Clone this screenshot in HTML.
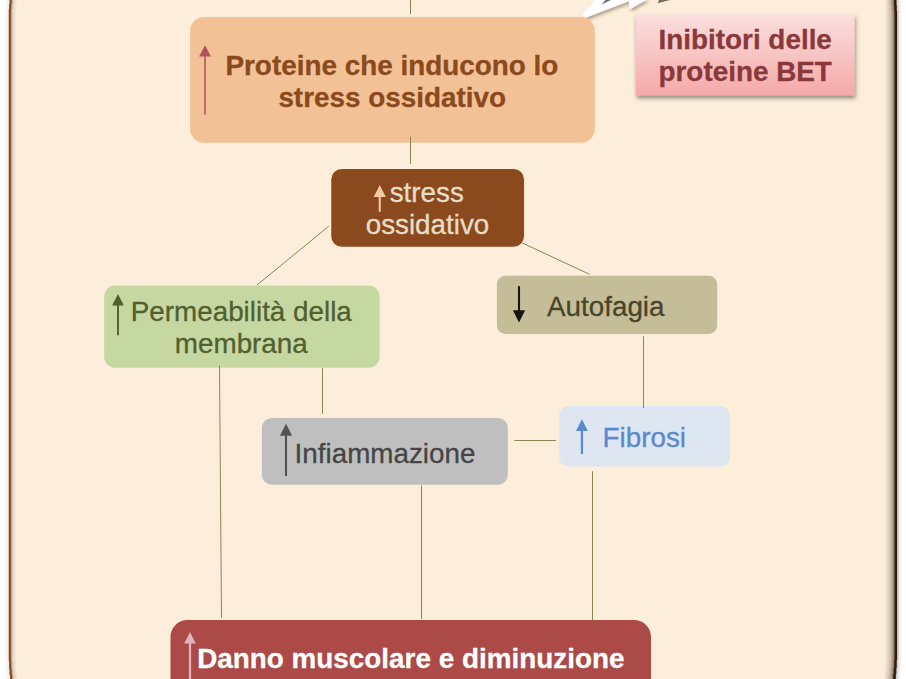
<!DOCTYPE html>
<html lang="it">
<head>
<meta charset="utf-8">
<title>Proteine BET e stress ossidativo</title>
<style>
  html, body { margin: 0; padding: 0; background: #ffffff; }
  body { width: 906px; height: 679px; overflow: hidden; position: relative; }
  #stage { position: absolute; left: 0; top: 0; width: 906px; height: 679px; overflow: hidden; background: #fdeedb; }
  .edgeL { position: absolute; left: 0; width: 18px; --o: 0px;
    background: linear-gradient(to right, #ffffff 0px, #ffffff calc(4.5px + var(--o)), #f6f6f8 calc(6px + var(--o)), #f1eeee calc(8.3px + var(--o)), #a5703f calc(8.9px + var(--o)), #8b4a1c calc(9.4px + var(--o)), #8b4a1c calc(10.4px + var(--o)), #b8905f calc(11.1px + var(--o)), #d3c8b8 calc(12px + var(--o)), #e6dccb calc(13.5px + var(--o)), #fdeedb calc(16.5px + var(--o))); }
  .edgeR { position: absolute; left: 884px; width: 22px; --o: 0px;
    background: linear-gradient(to right, #fdeedb calc(1px - var(--o)), #e2d8c4 calc(4px - var(--o)), #c9bca9 calc(7px - var(--o)), #8a7e72 calc(10px - var(--o)), #4a2b12 calc(10.8px - var(--o)), #3a1a02 calc(11.3px - var(--o)), #3a1a02 calc(12.6px - var(--o)), #c9c9c9 calc(13.6px - var(--o)), #ececec calc(15.5px - var(--o)), #ffffff calc(18.5px - var(--o))); }
  svg { position: absolute; left: 0; top: 0; }
  text { font-family: "Liberation Sans", Arial, Helvetica, sans-serif; font-size: 27.8px; stroke-width: 0.3px; }
  .b { font-weight: bold; font-size: 27.87px; }
</style>
</head>
<body>
<div id="stage">
  <div class="edgeL" style="top:0;height:4px;--o:0.8px"></div>
  <div class="edgeL" style="top:4px;height:5px;--o:0.4px"></div>
  <div class="edgeL" style="top:9px;height:652px"></div>
  <div class="edgeL" style="top:661px;height:8px;--o:0.35px"></div>
  <div class="edgeL" style="top:669px;height:6px;--o:0.8px"></div>
  <div class="edgeL" style="top:675px;height:4px;--o:1.2px"></div>
  <div class="edgeR" style="top:0;height:5px;--o:0.6px"></div>
  <div class="edgeR" style="top:5px;height:6px;--o:0.3px"></div>
  <div class="edgeR" style="top:11px;height:649px"></div>
  <div class="edgeR" style="top:660px;height:8px;--o:0.35px"></div>
  <div class="edgeR" style="top:668px;height:6px;--o:0.8px"></div>
  <div class="edgeR" style="top:674px;height:5px;--o:1.3px"></div>
  <svg width="906" height="679" viewBox="0 0 906 679">
    <defs>
      <linearGradient id="pink" x1="0" y1="0" x2="0" y2="1">
        <stop offset="0" stop-color="#fbdfdf"/>
        <stop offset="1" stop-color="#f4a9a8"/>
      </linearGradient>
      <filter id="sh" x="-10%" y="-20%" width="120%" height="150%">
        <feDropShadow dx="0.8" dy="2.6" stdDeviation="1.9" flood-color="#40382e" flood-opacity="0.6"/>
      </filter>
      <filter id="bl" x="-30%" y="-100%" width="160%" height="300%"><feGaussianBlur stdDeviation="0.7"/></filter>
      <filter id="sh2" x="-20%" y="-50%" width="140%" height="250%">
        <feDropShadow dx="1.5" dy="2.5" stdDeviation="1.6" flood-color="#5a4630" flood-opacity="0.45"/>
      </filter>
    </defs>


    <!-- lightning bolt -->
    <g filter="url(#sh2)">
      <polygon points="583.4,13.6 597.9,-3 629.4,-3 628.4,1.1 586.3,17.1 584.6,16.8 583.3,15.2" fill="#ffffff" stroke="#ffffff" stroke-width="0.7" stroke-linejoin="round"/>
      <polygon points="628.9,-3 629.8,8 630.8,8.5 647.2,-1" fill="#ffffff" stroke="#ffffff" stroke-width="0.5" stroke-linejoin="round"/>
    </g>
    <polygon points="601.5,4.6 606.5,-1 613,-1" fill="#6b6b6b"/>
    <polygon points="657.5,3.2 660,-2 678,-2" fill="#5e5750" opacity="0.85" filter="url(#bl)"/>

    <!-- orange box -->
    <rect x="190.1" y="16.9" width="404.7" height="125.9" rx="14" ry="14" fill="#f2c196"/>
    <g fill="#b0525c" stroke="none">
      <rect x="204.25" y="54" width="1.5" height="60.7"/>
      <polygon points="205,45.2 210.9,56.4 199.1,56.4"/>
    </g>
    <text class="b" x="391.85" y="74.5" text-anchor="middle" fill="#8b4a1c" stroke="#8b4a1c">Proteine che inducono lo</text>
    <text class="b" x="392.2" y="106.5" text-anchor="middle" fill="#8b4a1c" stroke="#8b4a1c">stress ossidativo</text>

    <line x1="410.5" y1="136.5" x2="410.5" y2="164" stroke="#8b8754" stroke-width="1"/>

    <!-- pink box -->
    <rect x="636" y="14.5" width="218.5" height="81" fill="url(#pink)" filter="url(#sh)"/>
    <text class="b" x="745.2" y="48.75" text-anchor="middle" fill="#8b383a" stroke="#8b383a">Inibitori delle</text>
    <text class="b" x="745.2" y="80.5" text-anchor="middle" fill="#8b383a" stroke="#8b383a">proteine BET</text>

    <!-- brown box -->
    <rect x="331.25" y="169" width="192.8" height="77.8" rx="10.5" ry="10.5" fill="#8b4a1e"/>
    <g fill="#f5c8a0">
      <rect x="378.7" y="195" width="2.1" height="16.8"/>
      <polygon points="379.75,185.1 385.8,197.1 373.7,197.1"/>
    </g>
    <text x="426.75" y="202.1" text-anchor="middle" fill="#e8dec8" stroke="#e8dec8">stress</text>
    <text x="427.5" y="234.1" text-anchor="middle" fill="#e8dec8" stroke="#e8dec8">ossidativo</text>

    <!-- green box -->
    <rect x="104.1" y="285.6" width="275.6" height="82.1" rx="10.5" ry="10.5" fill="#c6d8a2"/>
    <g fill="#52602e">
      <rect x="117.05" y="303" width="1.9" height="32.3"/>
      <polygon points="118,293.9 123.9,305.5 112.1,305.5"/>
    </g>
    <text x="241.3" y="320.9" text-anchor="middle" fill="#52602e" stroke="#52602e">Permeabilità della</text>
    <text x="241.3" y="352.9" text-anchor="middle" fill="#52602e" stroke="#52602e">membrana</text>

    <!-- autofagia box -->
    <rect x="496.9" y="275.7" width="220.3" height="58.4" rx="8.5" ry="8.5" fill="#c4bd97"/>
    <g fill="#171512">
      <rect x="517.95" y="286.2" width="2.1" height="26"/>
      <polygon points="519,322.4 525.1,310.2 512.9,310.2"/>
    </g>
    <text x="605.75" y="315.5" text-anchor="middle" fill="#494429" stroke="#494429">Autofagia</text>

    <!-- gray box -->
    <rect x="261.9" y="417.9" width="245.9" height="66.9" rx="10" ry="10" fill="#bfbfbf"/>
    <g fill="#55534f">
      <rect x="284.95" y="433" width="2.1" height="43"/>
      <polygon points="286,423.8 292.1,435.7 279.9,435.7"/>
    </g>
    <text x="385" y="462.5" text-anchor="middle" fill="#454545" stroke="#454545">Infiammazione</text>

    <!-- fibrosi box -->
    <rect x="559.1" y="406.1" width="170.8" height="60.4" rx="9" ry="9" fill="#dee6f1"/>
    <g fill="#5a89ce">
      <rect x="580.85" y="428" width="2.2" height="26"/>
      <polygon points="581.9,419.2 587.9,431 575.9,431"/>
    </g>
    <text x="644.3" y="446.9" text-anchor="middle" fill="#5a89ce" stroke="#5a89ce">Fibrosi</text>

    <!-- red box -->
    <rect x="170.5" y="620" width="480.5" height="90" rx="17" ry="17" fill="#ab4a46"/>
    <g fill="#e0b4b6">
      <rect x="188.85" y="641" width="2.3" height="45"/>
      <polygon points="190,632 195.8,643.6 184.2,643.6"/>
    </g>
    <text class="b" x="410.8" y="667.5" text-anchor="middle" fill="#ffffff" stroke="#ffffff">Danno muscolare e diminuzione</text>
    <!-- connector lines -->
    <g stroke="#8b8754" stroke-width="1" fill="none">
      <line x1="410.5" y1="0" x2="410.5" y2="14"/>
      
      <line x1="328.75" y1="226.25" x2="257" y2="285"/>
      <line x1="521.25" y1="242.5" x2="589.5" y2="274.25"/>
      <line x1="219.5" y1="365.8" x2="221.5" y2="617.7"/>
      <line x1="322.5" y1="368.2" x2="322.5" y2="413.75"/>
      <line x1="643.5" y1="336.25" x2="643.5" y2="408"/>
      <line x1="514.3" y1="440.5" x2="556" y2="440.5"/>
      <line x1="421.5" y1="485.4" x2="421.5" y2="619"/>
      <line x1="592.5" y1="471.25" x2="592.5" y2="620.5"/>
    </g>
  </svg>
</div>
</body>
</html>
